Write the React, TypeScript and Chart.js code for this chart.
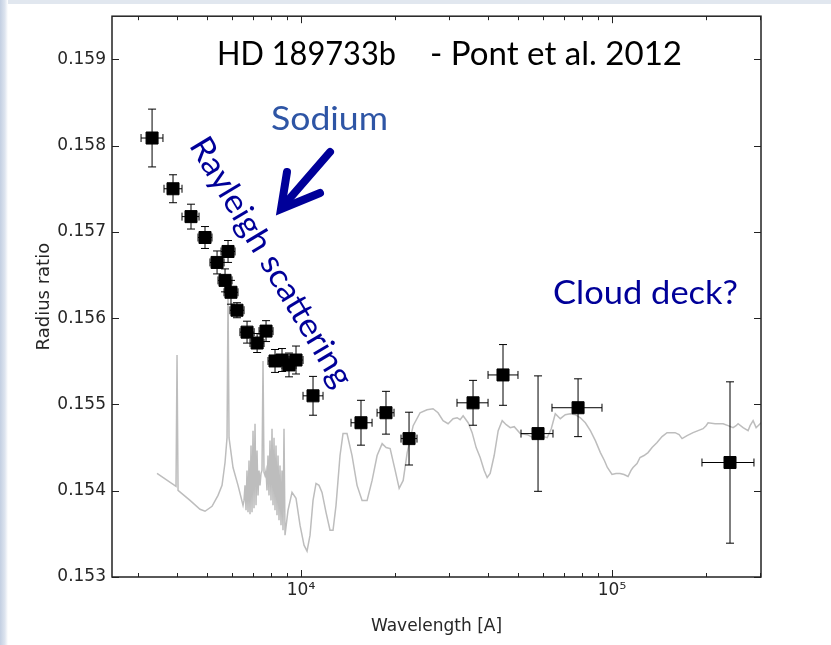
import React, { useEffect, useRef } from 'react';
import { Chart, registerables } from 'chart.js';

Chart.register(...registerables);

// ---------- axes ----------
const X_MIN = 2467;
const X_MAX = 301400;
const Y_MIN = 0.153;
const Y_MAX = 0.1595;
const Y_TICKS = [0.153, 0.154, 0.155, 0.156, 0.157, 0.158, 0.159];
const X_MAJOR = [10000, 100000];
const X_TICK_LABELS = ['10⁴', '10⁵'];
const X_MINOR = [3000, 4000, 5000, 6000, 7000, 8000, 9000, 20000, 30000, 40000, 50000, 60000, 70000, 80000, 90000, 200000, 300000];

// ---------- observed transmission spectrum (Pont et al. 2012) ----------
const OBS_WL = [3319, 3876, 4428, 4912, 5370, 5825, 5697, 5954, 6224, 6705, 7225, 7718, 8249, 8688, 9149, 9636, 10929, 15590, 18760, 22250, 35740, 44620, 57830, 77780, 239600];
const OBS_WL_LO = [3059, 3626, 4143, 4664, 5096, 5531, 5409, 5655, 5910, 6363, 6855, 7328, 7832, 8249, 8688, 9149, 10149, 14480, 17560, 20970, 31740, 39940, 50980, 64130, 194700];
const OBS_WL_HI = [3598, 4143, 4699, 5172, 5655, 6134, 5999, 6270, 6557, 7066, 7603, 8128, 8688, 9149, 9636, 10149, 11770, 16920, 19910, 23600, 39940, 49850, 64600, 92860, 286100];
const OBS_R = [0.158088, 0.1575, 0.157177, 0.156935, 0.156646, 0.156773, 0.156438, 0.1563, 0.156092, 0.155838, 0.155712, 0.15585, 0.155504, 0.155515, 0.155458, 0.155515, 0.1551, 0.154788, 0.154904, 0.154604, 0.155019, 0.155342, 0.154662, 0.154962, 0.154327];
const OBS_ERR = [0.000335, 0.000162, 0.000144, 0.000127, 0.000133, 0.000127, 0.000133, 0.000138, 0.000087, 0.000127, 0.00011, 0.000121, 0.000133, 0.000133, 0.000138, 0.000162, 0.000225, 0.00026, 0.000248, 0.000306, 0.00026, 0.000352, 0.000669, 0.000335, 0.000935];

// ---------- model spectrum (grey) ----------
const MODEL_WL = [
  3443, 3963, 3993, 4023, 4396, 4734, 4913, 5174, 5409, 5572, 5697, 5782, 5825, 5868, 6044, 6272, 6509,
  6557, 6606, 6655, 6704, 6754, 6804, 6855, 6906, 6957, 7009, 7061, 7113, 7166, 7219, 7273, 7327, 7381, 7436, 7491, 7547, 7603,
  7659, 7716, 7774, 7831, 7890, 7948, 8007, 8067, 8127, 8187, 8248, 8309, 8371, 8433, 8496, 8559, 8623, 8687, 8751, 8816, 8882,
  9081, 9355, 9636, 9926, 10225, 10455, 10690, 10930, 11175, 11426, 11682, 12033, 12395, 12674, 12958, 13348, 13648, 14058,
  14590, 15142, 15715, 16310, 16927, 17567, 18232, 18781, 19347, 20079, 20684, 21307, 21949, 22944, 24150, 25420, 26573,
  27580, 28625, 29710, 30837, 31766, 32479, 33208, 34467, 35505, 36575, 37677, 38812, 39683, 40574, 41796, 43055, 44353,
  45689, 47066, 48484, 50694, 53390, 55823, 58792, 61918, 63783, 65705, 68189, 70768, 73444, 76221, 79103, 82094, 85198,
  88419, 91762, 94527, 96633, 100000, 103013, 106117, 109315, 112609, 115131, 116846, 120367, 123063, 126772, 130592,
  134527, 139600, 144866, 150330, 154860, 159527, 164334, 168015, 174352, 182284, 189160, 196294, 200691, 203683, 214547,
  227628, 236220, 245130, 250620, 254360, 263960, 273920, 278000, 284300, 290700, 295000, 301700,
];
const MODEL_R = [
  0.1542, 0.15405, 0.155573, 0.154004, 0.153888, 0.153785, 0.153762, 0.153819, 0.153946, 0.154062, 0.154327, 0.154615, 0.15628, 0.154615, 0.154269, 0.154062, 0.153831,
  0.153888, 0.154062, 0.153773, 0.154235, 0.15375, 0.15435, 0.153727, 0.154523, 0.15375, 0.154696, 0.153796, 0.154777, 0.153831, 0.154465, 0.153946, 0.154235, 0.154062, 0.1542, 0.154235, 0.155504, 0.154212,
  0.154177, 0.154235, 0.154004, 0.154408, 0.153946, 0.154581, 0.153888, 0.154719, 0.153831, 0.154615, 0.153773, 0.154523, 0.153715, 0.154408, 0.153658, 0.154292, 0.1536, 0.154235, 0.153542, 0.154719, 0.153485,
  0.153773, 0.153981, 0.153912, 0.1536, 0.153369, 0.1533, 0.153485, 0.153888, 0.154085, 0.154062, 0.153981, 0.15375, 0.153542, 0.153542, 0.153831, 0.154408, 0.154662, 0.154662,
  0.154408, 0.154062, 0.153888, 0.153888, 0.154119, 0.154408, 0.154546, 0.1545, 0.154488, 0.154235, 0.154027, 0.154119, 0.154442, 0.154754, 0.154904, 0.154938, 0.15495,
  0.154904, 0.154812, 0.154777, 0.154835, 0.154846, 0.154823, 0.154869, 0.154788, 0.154673, 0.1545, 0.154385, 0.154235, 0.154154, 0.1542, 0.154408, 0.154696, 0.154812,
  0.154765, 0.154731, 0.154742, 0.154662, 0.15465, 0.154615, 0.154638, 0.154615, 0.154719, 0.154892, 0.154835, 0.154881, 0.154892, 0.154881, 0.154846, 0.154788, 0.154696,
  0.154581, 0.154442, 0.15435, 0.154269, 0.154188, 0.1542, 0.1542, 0.154188, 0.154165, 0.154235, 0.154269, 0.154315, 0.154385, 0.154408, 0.154442,
  0.1545, 0.154558, 0.154627, 0.154673, 0.154673, 0.154673, 0.15465, 0.154604, 0.154638, 0.154673, 0.154696, 0.154719, 0.154754, 0.154788, 0.154777,
  0.154777, 0.154754, 0.154731, 0.154754, 0.154777, 0.154731, 0.154696, 0.154754, 0.154812, 0.154731, 0.154754, 0.154788,
];

// ---------- annotation texts ----------
const TITLE_LEFT = 'HD 189733b';
const TITLE_RIGHT = '- Pont et al. 2012';
const LABEL_SODIUM = 'Sodium';
const LABEL_RAYLEIGH = 'Rayleigh scattering';
const LABEL_CLOUD = 'Cloud deck?';

const NAVY = '#000099';
const SODIUM_BLUE = '#2E55A5';
const AXIS_TEXT = '#262626';

function fitText(ctx: CanvasRenderingContext2D, text: string, x: number, y: number, width: number, font: string, color: string, rot = 0, align: CanvasTextAlign = 'left', baseline: CanvasTextBaseline = 'alphabetic') {
  ctx.save();
  ctx.font = font;
  ctx.fillStyle = color;
  ctx.textAlign = align;
  ctx.textBaseline = baseline;
  const w = ctx.measureText(text).width || 1;
  ctx.translate(x, y);
  if (rot) ctx.rotate(rot);
  ctx.scale(width / w, 1);
  ctx.fillText(text, 0, 0);
  ctx.restore();
}

const errorBarPlugin = {
  id: 'errorBars',
  beforeDatasetDraw(chart: any, args: any) {
    if (args.index !== 1) return;
    const { ctx, scales } = chart;
    const xs = scales.x;
    const ys = scales.y;
    const cap = 4;
    ctx.save();
    ctx.strokeStyle = '#000';
    ctx.lineWidth = 1;
    ctx.beginPath();
    for (let i = 0; i < OBS_WL.length; i++) {
      const px = xs.getPixelForValue(OBS_WL[i]);
      const py = ys.getPixelForValue(OBS_R[i]);
      const pt = ys.getPixelForValue(OBS_R[i] + OBS_ERR[i]);
      const pb = ys.getPixelForValue(OBS_R[i] - OBS_ERR[i]);
      const pl = xs.getPixelForValue(OBS_WL_LO[i]);
      const pr = xs.getPixelForValue(OBS_WL_HI[i]);
      ctx.moveTo(px, pt); ctx.lineTo(px, pb);
      ctx.moveTo(px - cap, pt); ctx.lineTo(px + cap, pt);
      ctx.moveTo(px - cap, pb); ctx.lineTo(px + cap, pb);
      ctx.moveTo(pl, py); ctx.lineTo(pr, py);
      ctx.moveTo(pl, py - cap); ctx.lineTo(pl, py + cap);
      ctx.moveTo(pr, py - cap); ctx.lineTo(pr, py + cap);
    }
    ctx.stroke();
    ctx.restore();
  },
};

const framePlugin = {
  id: 'frame',
  afterDatasetsDraw(chart: any) {
    const { ctx, chartArea: a, scales } = chart;
    const xs = scales.x;
    const ys = scales.y;
    ctx.save();
    ctx.strokeStyle = '#222';
    ctx.lineWidth = 1;
    ctx.beginPath();
    for (const v of Y_TICKS) {
      const py = Math.round(ys.getPixelForValue(v)) + 0.5;
      ctx.moveTo(a.left, py); ctx.lineTo(a.left + 7, py);
      ctx.moveTo(a.right, py); ctx.lineTo(a.right - 7, py);
    }
    for (const v of X_MAJOR) {
      const px = Math.round(xs.getPixelForValue(v)) + 0.5;
      ctx.moveTo(px, a.bottom); ctx.lineTo(px, a.bottom - 7);
      ctx.moveTo(px, a.top); ctx.lineTo(px, a.top + 7);
    }
    for (const v of X_MINOR) {
      if (v <= X_MIN || v >= X_MAX) continue;
      const px = Math.round(xs.getPixelForValue(v)) + 0.5;
      ctx.moveTo(px, a.bottom); ctx.lineTo(px, a.bottom - 4);
      ctx.moveTo(px, a.top); ctx.lineTo(px, a.top + 4);
    }
    ctx.stroke();
    ctx.lineWidth = 1.5;
    ctx.strokeRect(a.left, a.top, a.right - a.left, a.bottom - a.top);
    ctx.restore();
  },
};

const annotationPlugin = {
  id: 'annotations',
  afterDraw(chart: any) {
    const ctx: CanvasRenderingContext2D = chart.ctx;
    const font = (s: number) => `${s}px Lato, "Open Sans", sans-serif`;
    fitText(ctx, TITLE_LEFT, 217, 65, 179, font(32), '#000');
    fitText(ctx, TITLE_RIGHT, 430, 65, 252, font(32), '#000');
    fitText(ctx, LABEL_SODIUM, 271, 130, 117, font(33), SODIUM_BLUE);
    fitText(ctx, LABEL_CLOUD, 553, 304, 185, font(33), NAVY);
    fitText(ctx, LABEL_RAYLEIGH, 271, 262, 285, font(33), NAVY, (59 * Math.PI) / 180, 'center', 'middle');
    // arrow
    ctx.save();
    ctx.strokeStyle = NAVY;
    ctx.lineWidth = 8;
    ctx.lineCap = 'round';
    ctx.beginPath();
    ctx.moveTo(330, 152);
    ctx.lineTo(284, 205);
    ctx.stroke();
    ctx.lineJoin = 'miter';
    ctx.lineCap = 'round';
    ctx.beginPath();
    ctx.moveTo(287, 172);
    ctx.lineTo(281, 209);
    ctx.lineTo(320, 193);
    ctx.stroke();
    ctx.restore();
  },
};

export default function App() {
  const canvasRef = useRef<HTMLCanvasElement | null>(null);

  useEffect(() => {
    if (!canvasRef.current) return;
    const chart = new Chart(canvasRef.current, {
      type: 'scatter',
      data: {
        datasets: [
          {
            type: 'line',
            label: 'model',
            data: MODEL_WL.map((w, i) => ({ x: w, y: MODEL_R[i] })),
            borderColor: '#bdbdbd',
            borderWidth: 1.5,
            pointRadius: 0,
            tension: 0,
            fill: false,
            order: 2,
          } as any,
          {
            type: 'scatter',
            label: 'data',
            data: OBS_WL.map((w, i) => ({ x: w, y: OBS_R[i] })),
            pointStyle: 'rect',
            pointRadius: 8.5,
            backgroundColor: '#000',
            borderColor: '#000',
            borderWidth: 1,
            order: 1,
          } as any,
        ],
      },
      options: {
        animation: false,
        responsive: false,
        events: [],
        layout: { padding: { left: 0, top: 15, right: 70, bottom: 0 } },
        plugins: { legend: { display: false }, tooltip: { enabled: false } },
        scales: {
          x: {
            type: 'logarithmic',
            min: X_MIN,
            max: X_MAX,
            grid: { display: false, drawTicks: false },
            border: { display: false },
            afterBuildTicks: (s: any) => { s.ticks = X_MAJOR.map((v) => ({ value: v })); },
            afterFit: (s: any) => { s.height = 68; },
            ticks: {
              autoSkip: false,
              maxRotation: 0,
              padding: 3,
              color: AXIS_TEXT,
              font: { size: 17, family: 'DejaVu Sans' },
              callback: (_v: any, i: number) => X_TICK_LABELS[i],
            },
            title: {
              display: true,
              text: 'Wavelength [A]',
              color: AXIS_TEXT,
              font: { size: 17, family: 'DejaVu Sans' },
              padding: { top: 0, bottom: 8 },
            },
          },
          y: {
            type: 'linear',
            min: Y_MIN,
            max: Y_MAX,
            grid: { display: false, drawTicks: false },
            border: { display: false },
            afterBuildTicks: (s: any) => { s.ticks = Y_TICKS.map((v) => ({ value: v })); },
            afterFit: (s: any) => { s.width = 112; },
            ticks: {
              padding: 6,
              color: AXIS_TEXT,
              font: { size: 17, family: 'DejaVu Sans' },
              callback: (v: any) => Number(v).toFixed(3),
            },
            title: {
              display: true,
              text: 'Radius ratio',
              color: AXIS_TEXT,
              font: { size: 18, family: 'DejaVu Sans' },
              padding: { top: 34, bottom: 0 },
            },
          },
        },
      } as any,
      plugins: [errorBarPlugin, framePlugin, annotationPlugin],
    });
    return () => chart.destroy();
  }, []);

  return (
    <div style={{ position: 'fixed', left: 0, top: 0, width: 831, height: 645, background: '#ffffff', overflow: 'hidden' }}>
      <div style={{ position: 'absolute', left: 0, top: 0, width: 831, height: 4, background: '#e1e7ef' }} />
      <div style={{ position: 'absolute', left: 0, top: 0, width: 8, height: 645, background: 'linear-gradient(to right, #c3cfe2 0%, #dde4ef 60%, #ffffff 100%)' }} />
      <canvas ref={canvasRef} width={831} height={645} style={{ position: 'absolute', left: 0, top: 0, width: 831, height: 645 }} />
    </div>
  );
}
